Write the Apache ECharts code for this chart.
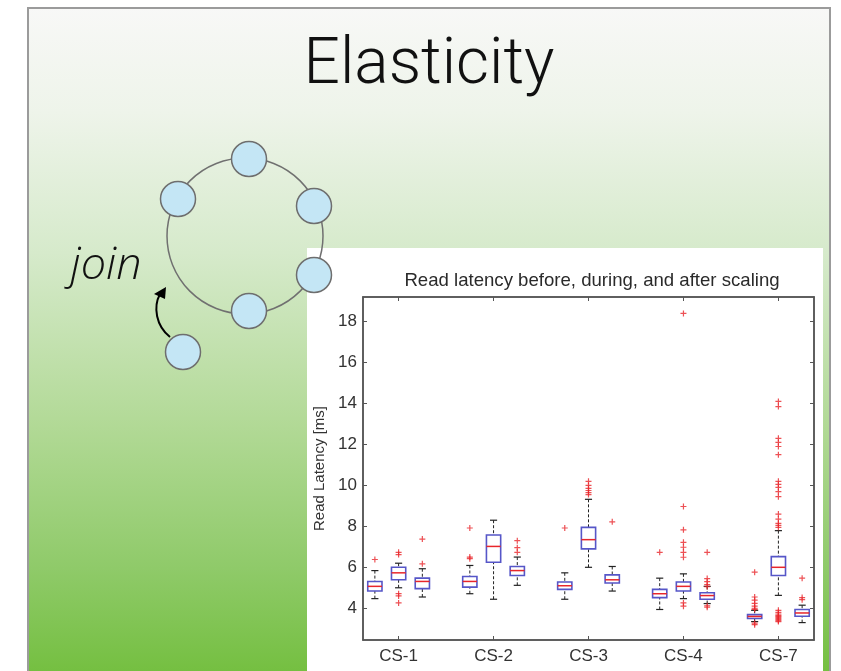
<!DOCTYPE html>
<html>
<head>
<meta charset="utf-8">
<script src="https://cdn.jsdelivr.net/npm/echarts@6/dist/echarts.min.js"></script>
<style>
html,body{margin:0;padding:0;background:#ffffff;}
#chart{width:841px;height:671px;}
</style>
</head>
<body>
<div id="chart"></div>
<script>
// ---- data ----
const categories = ['CS-1', 'CS-2', 'CS-3', 'CS-4', 'CS-7'];
const categoryTicks = [2, 6, 10, 14, 18];
const yTicks = [4, 6, 8, 10, 12, 14, 16, 18];
const boxX = [1, 2, 3, 5, 6, 7, 9, 10, 11, 13, 14, 15, 17, 18, 19];
const lowWhisker  = [4.47, 5.00, 4.55, 4.71, 4.44, 5.12, 4.44, 6.00, 4.84, 3.94, 4.47, 4.23, 3.35, 4.63, 3.30];
const q1          = [4.84, 5.39, 4.96, 5.03, 6.25, 5.60, 4.92, 6.90, 5.23, 4.52, 4.84, 4.44, 3.50, 5.60, 3.61];
const median      = [5.07, 5.73, 5.31, 5.31, 7.02, 5.84, 5.10, 7.35, 5.39, 4.71, 5.07, 4.62, 3.60, 6.00, 3.77];
const q3          = [5.31, 6.00, 5.47, 5.55, 7.58, 6.04, 5.28, 7.95, 5.63, 4.92, 5.28, 4.76, 3.69, 6.52, 3.94];
const highWhisker = [5.84, 6.20, 5.93, 6.09, 8.30, 6.50, 5.73, 9.32, 6.04, 5.47, 5.68, 5.07, 3.90, 7.79, 4.15];
const outliers = [
  [6.38],
  [6.73, 6.62, 4.71, 4.60, 4.26],
  [7.38, 6.17],
  [7.92, 6.50, 6.42],
  [],
  [7.30, 6.96, 6.73],
  [7.92],
  [10.2, 10.0, 9.85, 9.75, 9.65, 9.55],
  [8.22],
  [6.73],
  [18.4, 8.97, 7.83, 7.22, 6.98, 6.73, 6.49, 4.26, 4.10],
  [6.73, 5.45, 5.30, 5.15, 5.05, 4.12, 4.05],
  [5.76, 4.55, 4.40, 4.24, 4.10, 4.00, 3.95, 3.27, 3.20],
  [14.1, 13.85, 12.3, 12.1, 11.9, 11.5, 10.2, 10.05, 9.9, 9.7, 9.45, 8.6, 8.35, 8.15, 8.05, 7.95,
   3.9, 3.8, 3.72, 3.65, 3.6, 3.55, 3.5, 3.45, 3.4, 3.35],
  [5.47, 4.52, 4.42]
];
const slideTitle = 'Elasticity';
const chartTitle = 'Read latency before, during, and after scaling';
const yName = 'Read Latency [ms]';
const joinLabel = 'join';

// ---- build ----
const boxData = boxX.map((x, i) => [x, lowWhisker[i], q1[i], median[i], q3[i], highWhisker[i]]);
const outlierData = [];
outliers.forEach((list, i) => list.forEach(v => outlierData.push([boxX[i], v])));

const chart = echarts.init(document.getElementById('chart'));

const ringNodes = [[249,159],[178,199],[314,206],[314,275],[249,311]];
const nodeStyle = {fill:'#c4e6f5', stroke:'#6e6e6e', lineWidth:1.5};
const graphics = [
  {type:'rect', z:-30, shape:{x:28,y:8,width:802,height:700},
   style:{stroke:'#9b9b9b', lineWidth:2,
     fill:new echarts.graphic.LinearGradient(0,0,0,1,[
       {offset:0, color:'#f8f8f7'},
       {offset:0.15, color:'#eef4ea'},
       {offset:0.35, color:'#d6eacb'},
       {offset:0.6, color:'#b1d995'},
       {offset:0.8, color:'#8fca69'},
       {offset:0.95, color:'#74bf40'},
       {offset:1, color:'#6fbc3a'}
     ])}},
  {type:'rect', z:-20, shape:{x:307,y:248,width:516,height:430}, style:{fill:'#ffffff'}},
  {type:'circle', z:50, shape:{cx:245,cy:236,r:78}, style:{fill:'none', stroke:'#707070', lineWidth:1.5}},
  {type:'bezierCurve', z:50, shape:{x1:170,y1:337,cpx1:156,cpy1:326,cpx2:153,cpy2:307,x2:160,y2:294},
   style:{stroke:'#000', lineWidth:2, fill:'none'}},
  {type:'polygon', z:50, shape:{points:[[166,287],[154,294],[165,299]]}, style:{fill:'#000'}},
  {type:'text', z:50, x:106, y:266, style:{text:joinLabel, font:'italic 300 45px "Open Sans", Roboto, sans-serif',
     fill:'#111', align:'center', verticalAlign:'middle'}}
];
ringNodes.forEach(p => graphics.push({type:'circle', z:51, shape:{cx:p[0],cy:p[1],r:17.5}, style:nodeStyle}));
graphics.push({type:'circle', z:51, shape:{cx:183,cy:352,r:17.5}, style:nodeStyle});

const axisColor = '#555';
const option = {
  animation: false,
  backgroundColor: 'transparent',
  title: [
    {text: slideTitle, left: 424, top: 30, textAlign: 'center',
     textStyle:{fontFamily:'Roboto, "Liberation Sans", sans-serif', fontWeight:300, fontSize:64, color:'#111'}},
    {text: chartTitle, left: 587, top: 266, textAlign: 'center',
     textStyle:{fontFamily:'"Liberation Sans", Arial, sans-serif', fontWeight:'normal', fontSize:18.6, color:'#2a2a2a'}}
  ],
  graphic: {elements: graphics},
  grid: {left:363, top:297, right:27, bottom:31, show:true, borderColor:axisColor, borderWidth:1.5, backgroundColor:'#fff', z:-5},
  xAxis: [
    {type:'value', min:0.5, max:19.5, position:'bottom',
     axisLine:{show:true, onZero:false, lineStyle:{color:axisColor, width:1.5}},
     axisTick:{show:true, inside:true, length:4, customValues:categoryTicks, lineStyle:{color:axisColor}},
     axisLabel:{customValues:categoryTicks, formatter:v => categories[categoryTicks.indexOf(v)] || '',
       color:'#333', fontSize:17, margin:8, fontFamily:'"Liberation Sans", Arial, sans-serif'},
     splitLine:{show:false}},
    {type:'value', min:0.5, max:19.5, position:'top',
     axisLine:{show:true, onZero:false, lineStyle:{color:axisColor, width:1.5}},
     axisTick:{show:true, inside:true, length:4, customValues:categoryTicks, lineStyle:{color:axisColor}},
     axisLabel:{show:false}, splitLine:{show:false}}
  ],
  yAxis: [
    {type:'value', min:2.45, max:19.2, position:'left',
     name: yName, nameLocation:'middle', nameGap:33,
     nameTextStyle:{color:'#333', fontSize:15, fontFamily:'"Liberation Sans", Arial, sans-serif'},
     axisLine:{show:true, onZero:false, lineStyle:{color:axisColor, width:1.5}},
     axisTick:{show:true, inside:true, length:4, customValues:yTicks, lineStyle:{color:axisColor}},
     axisLabel:{customValues:yTicks, color:'#333', fontSize:17, margin:6, fontFamily:'"Liberation Sans", Arial, sans-serif'},
     splitLine:{show:false}},
    {type:'value', min:2.45, max:19.2, position:'right',
     axisLine:{show:true, onZero:false, lineStyle:{color:axisColor, width:1.5}},
     axisTick:{show:true, inside:true, length:4, customValues:yTicks, lineStyle:{color:axisColor}},
     axisLabel:{show:false}, splitLine:{show:false}}
  ],
  series: [
    {type:'custom', name:'boxes', xAxisIndex:0, yAxisIndex:0, data: boxData,
     encode:{x:0, y:[1,2,3,4,5]},
     renderItem: function (params, api) {
       const x = api.value(0);
       const lo = api.coord([x, api.value(1)]);
       const b1 = api.coord([x, api.value(2)]);
       const md = api.coord([x, api.value(3)]);
       const b3 = api.coord([x, api.value(4)]);
       const hi = api.coord([x, api.value(5)]);
       const hw = api.size([1, 0])[0] * 0.3;
       const cw = hw * 0.5;
       const dash = {stroke:'#222', lineWidth:1, lineDash:[3,2]};
       const solid = {stroke:'#222', lineWidth:1.2};
       return {type:'group', children:[
         {type:'line', shape:{x1:lo[0],y1:lo[1],x2:b1[0],y2:b1[1]}, style:dash},
         {type:'line', shape:{x1:hi[0],y1:hi[1],x2:b3[0],y2:b3[1]}, style:dash},
         {type:'line', shape:{x1:lo[0]-cw,y1:lo[1],x2:lo[0]+cw,y2:lo[1]}, style:solid},
         {type:'line', shape:{x1:hi[0]-cw,y1:hi[1],x2:hi[0]+cw,y2:hi[1]}, style:solid},
         {type:'rect', shape:{x:b3[0]-hw, y:b3[1], width:2*hw, height:b1[1]-b3[1]},
          style:{fill:'none', stroke:'#5656c8', lineWidth:1.6}},
         {type:'line', shape:{x1:md[0]-hw,y1:md[1],x2:md[0]+hw,y2:md[1]}, style:{stroke:'#e8262b', lineWidth:1.5}}
       ]};
     }},
    {type:'scatter', name:'outliers', xAxisIndex:0, yAxisIndex:0, data: outlierData,
     symbol:'path://M-0.6,-3H0.6V-0.6H3V0.6H0.6V3H-0.6V0.6H-3V-0.6H-0.6Z', symbolSize:6,
     itemStyle:{color:'#e8262b'}, z:3}
  ]
};
chart.setOption(option);
</script>
</body>
</html>
